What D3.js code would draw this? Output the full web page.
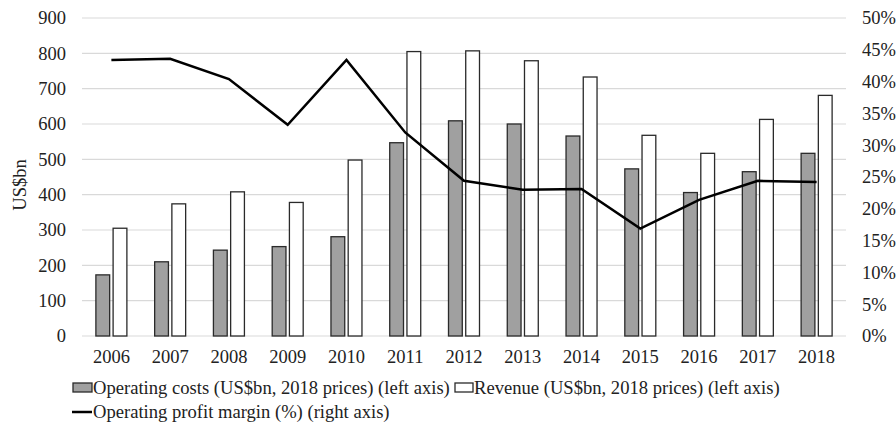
<!DOCTYPE html>
<html>
<head>
<meta charset="utf-8">
<script src="https://cdn.jsdelivr.net/npm/d3@7"></script>
<style>
  body { margin: 0; background: #fff; }
  svg, svg text { font-family: 'Liberation Serif', 'Times New Roman', serif !important; }
</style>
</head>
<body>
<div id="chart"></div>
<script>
// Data
const years = ['2006','2007','2008','2009','2010','2011','2012','2013','2014','2015','2016','2017','2018'];
const operatingCosts = [173, 210, 243, 253, 281, 547, 609, 600, 566, 473, 406, 465, 517];
const revenue = [305, 374, 408, 378, 498, 805, 807, 779, 733, 568, 517, 613, 681];
const profitMargin = [43.4, 43.6, 40.4, 33.2, 43.4, 32.0, 24.4, 23.0, 23.1, 16.9, 21.4, 24.4, 24.2];
const leftTicks = [0, 100, 200, 300, 400, 500, 600, 700, 800, 900];
const rightTicks = [0, 5, 10, 15, 20, 25, 30, 35, 40, 45, 50];

const width = 896, height = 425;
const margin = { top: 18, right: 50, bottom: 89, left: 82 };
const tickFont = 18.5, legendFont = 18.6;

const svg = d3.select('#chart')
  .append('svg')
  .attr('width', width)
  .attr('height', height);

// Scales
const x = d3.scaleBand()
  .domain(years)
  .range([margin.left, width - margin.right])
  .padding(0);

const sub = d3.scaleBand()
  .domain(['cost', 'rev'])
  .range([0, 31])
  .paddingInner(0.2);

const y = d3.scaleLinear()
  .domain([0, 900])
  .range([height - margin.bottom, margin.top]);

const y2 = d3.scaleLinear()
  .domain([0, 50])
  .range([height - margin.bottom, margin.top]);

// Gridlines
svg.append('g')
  .selectAll('line')
  .data(leftTicks)
  .enter().append('line')
  .attr('x1', margin.left)
  .attr('x2', width - margin.right)
  .attr('y1', d => y(d))
  .attr('y2', d => y(d))
  .attr('stroke', '#d9d9d9')
  .attr('stroke-width', 1.2);

function styleAxis(g) {
  g.select('.domain').remove();
  g.selectAll('text')
    .style('font-size', tickFont + 'px')
    .attr('fill', '#222');
}

// Left axis
svg.append('g')
  .attr('transform', `translate(${margin.left - 16},0)`)
  .call(d3.axisLeft(y).tickValues(leftTicks).tickSize(0).tickPadding(0))
  .call(styleAxis);

// Right axis
svg.append('g')
  .attr('transform', `translate(${width - margin.right + 16},0)`)
  .call(d3.axisRight(y2).tickValues(rightTicks).tickSize(0).tickPadding(0)
    .tickFormat(d => d + '%'))
  .call(styleAxis);

// Bottom axis
svg.append('g')
  .attr('transform', `translate(0,${height - margin.bottom})`)
  .call(d3.axisBottom(x).tickSize(0).tickPadding(14))
  .call(styleAxis);

// Y axis title
svg.append('text')
  .attr('transform', `translate(26,${(y(0) + y(900)) / 2 + 8}) rotate(-90)`)
  .attr('text-anchor', 'middle')
  .style('font-size', tickFont + 'px')
  .attr('fill', '#222')
  .text('US$bn');

// Bars
const groupOffset = d => x(d) + x.bandwidth() / 2 - 15.5;

svg.append('g')
  .selectAll('rect')
  .data(years.map((yr, i) => ({ yr, v: operatingCosts[i] })))
  .enter().append('rect')
  .attr('x', d => groupOffset(d.yr) + sub('cost'))
  .attr('y', d => y(d.v))
  .attr('width', sub.bandwidth())
  .attr('height', d => y(0) - y(d.v))
  .attr('fill', '#a0a0a0')
  .attr('stroke', '#2a2a2a')
  .attr('stroke-width', 1.3);

svg.append('g')
  .selectAll('rect')
  .data(years.map((yr, i) => ({ yr, v: revenue[i] })))
  .enter().append('rect')
  .attr('x', d => groupOffset(d.yr) + sub('rev'))
  .attr('y', d => y(d.v))
  .attr('width', sub.bandwidth())
  .attr('height', d => y(0) - y(d.v))
  .attr('fill', '#fff')
  .attr('stroke', '#2a2a2a')
  .attr('stroke-width', 1.3);

// Profit margin line
const line = d3.line()
  .x((d, i) => x(years[i]) + x.bandwidth() / 2)
  .y(d => y2(d));

svg.append('path')
  .datum(profitMargin)
  .attr('d', line)
  .attr('fill', 'none')
  .attr('stroke', '#000')
  .attr('stroke-width', 2.5)
  .attr('stroke-linejoin', 'miter');

// Legend
const legend = svg.append('g')
  .style('font-size', legendFont + 'px')
  .attr('fill', '#222');

legend.append('rect')
  .attr('x', 73).attr('y', 383)
  .attr('width', 19).attr('height', 9)
  .attr('fill', '#a0a0a0').attr('stroke', '#2a2a2a').attr('stroke-width', 1.3);
legend.append('text')
  .attr('x', 93).attr('y', 394)
  .text('Operating costs (US$bn, 2018 prices) (left axis)');

legend.append('rect')
  .attr('x', 455).attr('y', 383)
  .attr('width', 18).attr('height', 9)
  .attr('fill', '#fff').attr('stroke', '#2a2a2a').attr('stroke-width', 1.3);
legend.append('text')
  .attr('x', 474).attr('y', 394)
  .text('Revenue (US$bn, 2018 prices) (left axis)');

legend.append('line')
  .attr('x1', 72).attr('x2', 92)
  .attr('y1', 412).attr('y2', 412)
  .attr('stroke', '#000').attr('stroke-width', 2.5);
legend.append('text')
  .attr('x', 93).attr('y', 418)
  .text('Operating profit margin (%) (right axis)');
</script>
</body>
</html>
